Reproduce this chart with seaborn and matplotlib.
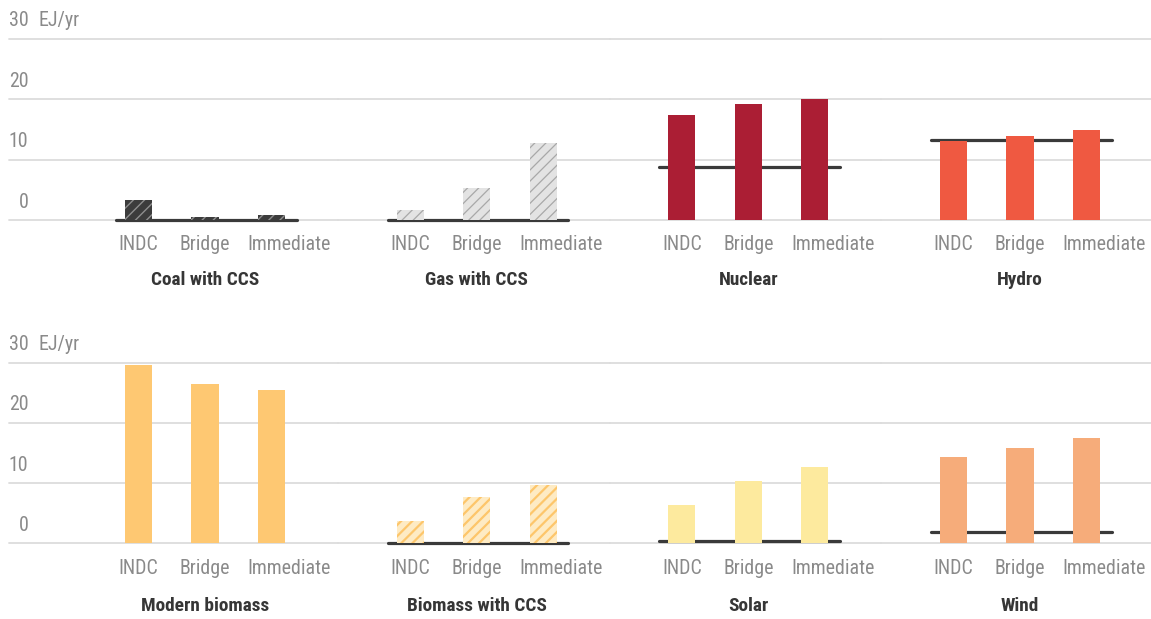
import numpy as np
import pandas as pd
import matplotlib
matplotlib.use("Agg")
import matplotlib.pyplot as plt
import seaborn as sns
from matplotlib.transforms import blended_transform_factory, ScaledTranslation

# ---- data (EJ/yr in 2030) ----
scenarios = ["INDC", "Bridge", "Immediate"]
technologies = ["Coal with CCS", "Gas with CCS", "Nuclear", "Hydro",
                "Modern biomass", "Biomass with CCS", "Solar", "Wind"]
coal_ccs = [3.3, 0.5, 0.8]
gas_ccs = [1.7, 5.3, 12.7]
nuclear = [17.4, 19.2, 20.1]
hydro = [13.1, 14.0, 14.9]
modern_biomass = [29.6, 26.5, 25.5]
biomass_ccs = [3.7, 7.7, 9.7]
solar = [6.4, 10.4, 12.6]
wind = [14.3, 15.8, 17.5]
# 2010 level for each technology (None = not drawn)
level_2010 = [0.0, 0.0, 8.8, 13.2, None, 0.0, 0.4, 1.8]
y_ticks = [0, 10, 20, 30]
unit_label = "EJ/yr"

series = [coal_ccs, gas_ccs, nuclear, hydro,
          modern_biomass, biomass_ccs, solar, wind]

# ---- styles: (face colour, hatch, hatch colour, hatch width) ----
styles = {
    "Coal with CCS": ("#3c3c3c", "///", "#8e8e8e", 1.0),
    "Gas with CCS": ("#e3e3e3", "///", "#a8a8a8", 0.9),
    "Nuclear": ("#ab1e34", None, None, None),
    "Hydro": ("#ef5941", None, None, None),
    "Modern biomass": ("#fec872", None, None, None),
    "Biomass with CCS": ("#feebc4", "///", "#fdc66b", 1.6),
    "Solar": ("#fdea9e", None, None, None),
    "Wind": ("#f6ac7a", None, None, None),
}

sns.set_theme(style="white")
plt.rcParams["font.family"] = ["Roboto Condensed", "DejaVu Sans"]

GREY_TXT = "#8a8a8a"
DARK_TXT = "#363636"
GRID = "#dcdcdc"
LABEL_SIZE = 14.3
TITLE_SIZE = 13.9

FW, FH = 1151, 619
fig = plt.figure(figsize=(FW / 100, FH / 100), dpi=100)

# layout in pixels
unit = 66.5            # distance between neighbouring bars
panel_w = 271.67       # width of one panel
first_center = 138.5   # centre of first bar of first panel
grid_left = 9
left_ext = panel_w - 3 * unit
rows = [(39.0, 220.0), (362.7, 543.3)]   # pixel y of 30 and of 0
label_drop = [24.5, 25.5]                # category labels below the baseline
title_drop = [59.5, 63.0]                # panel titles below the baseline


def off(ax, dx_px, dy_px):
    return ax.transData + ScaledTranslation(dx_px / 100, dy_px / 100, fig.dpi_scale_trans)


for i, tech in enumerate(technologies):
    r, k = divmod(i, 4)
    y30, y0 = rows[r]
    c0 = first_center + k * panel_w
    left_px = grid_left if k == 0 else c0 - left_ext
    right_px = min(FW, c0 + 3 * unit)
    ax = fig.add_axes([left_px / FW, 1 - y0 / FH,
                       (right_px - left_px) / FW, (y0 - y30) / FH])

    df = pd.DataFrame({"scenario": scenarios, "value": series[i]})
    face, hatch, hcol, hlw = styles[tech]
    sns.barplot(data=df, x="scenario", y="value", order=scenarios, ax=ax,
                color=face, saturation=1, width=0.41, errorbar=None,
                linewidth=0, zorder=3)
    for p in ax.patches:
        p.set_facecolor(face)
        p.set_linewidth(0)
        if hatch:
            p.set_hatch(hatch)
            p.set_edgecolor(hcol)
            if hasattr(p, "set_hatch_linewidth"):
                p.set_hatch_linewidth(hlw)
        else:
            p.set_edgecolor(face)

    ref = level_2010[i]
    if ref is not None:
        ax.plot([-0.34, 2.38], [ref, ref], color="#3a3a3a", lw=2.3,
                solid_capstyle="round", zorder=2, clip_on=False)

    ax.set_xlim(-(c0 - left_px) / unit, (right_px - c0) / unit)
    ax.set_ylim(0, 30)
    ax.set_yticks(y_ticks)
    ax.grid(axis="y", color=GRID, lw=1.3)
    ax.grid(axis="x", visible=False)
    for gl in ax.get_ygridlines():
        gl.set_clip_on(False)
    ax.set_axisbelow(True)
    for s in ax.spines.values():
        s.set_visible(False)
    ax.tick_params(left=False, bottom=False, labelleft=False, labelbottom=False)
    ax.set_xlabel("")
    ax.set_ylabel("")
    ax.patch.set_alpha(0)

    # category labels
    for j, sc in enumerate(scenarios):
        shift = 0.27 if sc == "Immediate" else 0.0
        ax.text(j + shift, 0, sc, transform=off(ax, 0, -label_drop[r]),
                ha="center", va="center", fontsize=LABEL_SIZE, color=GREY_TXT)
    # panel title
    ax.text(1, 0, tech, transform=off(ax, 0, -title_drop[r]),
            ha="center", va="center", fontsize=TITLE_SIZE, fontweight="bold",
            color=DARK_TXT)

    # value axis labels on first panel of each row
    if k == 0:
        tr = blended_transform_factory(fig.transFigure, ax.transData)
        up = ScaledTranslation(0, 18 / 100, fig.dpi_scale_trans)
        for t in y_ticks:
            ax.text(28.5 / FW, t, f"{t}", transform=tr + up,
                    ha="right", va="center", fontsize=LABEL_SIZE, color=GREY_TXT)
        ax.text(38 / FW, y_ticks[-1], unit_label, transform=tr + up,
                ha="left", va="center", fontsize=LABEL_SIZE, color=GREY_TXT)

fig.savefig("out.png", dpi=100)
